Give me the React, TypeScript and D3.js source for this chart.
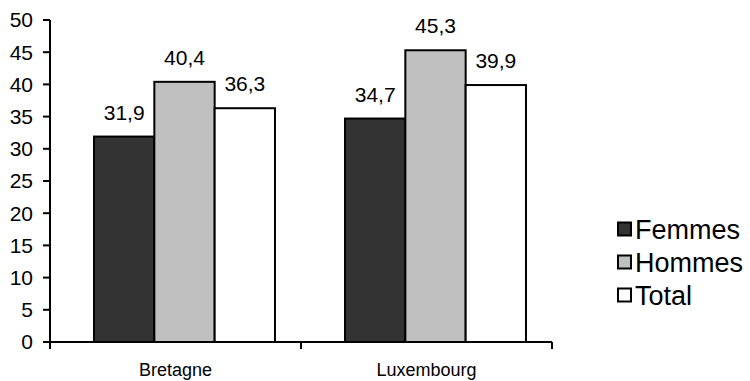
import React from "react";
import * as d3 from "d3";

const categories = ["Bretagne", "Luxembourg"];
const seriesNames = ["Femmes", "Hommes", "Total"];
const femmes = [31.9, 34.7];
const hommes = [40.4, 45.3];
const total = [36.3, 39.9];
const yTicks = [0, 5, 10, 15, 20, 25, 30, 35, 40, 45, 50];

const seriesValues = [femmes, hommes, total];
const fills = ["#333333", "#c0c0c0", "#ffffff"];

const W = 750;
const H = 381;
const left = 50;
const right = 552;
const top = 20;
const bottom = 342;
const barShift = 9;
const font = "Arial, 'Liberation Sans', sans-serif";

export default function App() {
  // category bands (axis ticks + labels)
  const x = d3.scaleBand<string>().domain(categories).range([left, right]);
  // bar clusters inside each category
  const xb = d3
    .scaleBand<string>()
    .domain(categories)
    .range([left + barShift, right + barShift])
    .paddingInner(0.279)
    .paddingOuter(0.1395);
  const xs = d3.scaleBand<string>().domain(seriesNames).range([0, xb.bandwidth()]);
  const y = d3.scaleLinear().domain([0, 50]).range([bottom, top]);
  const fmt = (v: number) => v.toFixed(1).replace(".", ",");

  return (
    <svg
      width={W}
      height={H}
      style={{ position: "absolute", left: 0, top: 0, background: "#fff" }}
      fontFamily={font}
      fontSize={21}
    >
      {/* bars */}
      {categories.map((c, ci) =>
        seriesNames.map((s, si) => {
          const v = seriesValues[si][ci];
          const bx = (xb(c) as number) + (xs(s) as number);
          return (
            <g key={c + s}>
              <rect
                x={bx}
                y={y(v)}
                width={xs.bandwidth()}
                height={bottom - y(v)}
                fill={fills[si]}
                stroke="#000"
                strokeWidth={2}
              />
              <text
                x={bx + xs.bandwidth() / 2}
                y={y(v) - 17}
                textAnchor="middle"
                fill="#000"
              >
                {fmt(v)}
              </text>
            </g>
          );
        })
      )}
      {/* y axis */}
      <line x1={left} x2={left} y1={top} y2={bottom + 7} stroke="#000" strokeWidth={2} />
      {yTicks.map((t) => (
        <g key={t}>
          <line x1={left - 7} x2={left} y1={y(t)} y2={y(t)} stroke="#000" strokeWidth={2} />
          <text x={left - 17} y={y(t)} dy="0.35em" textAnchor="end">
            {t}
          </text>
        </g>
      ))}
      {/* x axis */}
      <line x1={left - 7} x2={right} y1={bottom} y2={bottom} stroke="#000" strokeWidth={2} />
      {[...categories.map((c) => x(c) as number), right].map((tx, i) => (
        <line key={i} x1={tx} x2={tx} y1={bottom} y2={bottom + 7} stroke="#000" strokeWidth={2} />
      ))}
      {categories.map((c) => (
        <text
          key={c}
          x={(x(c) as number) + x.bandwidth() / 2}
          y={bottom + 34}
          textAnchor="middle"
          fontSize={18}
        >
          {c}
        </text>
      ))}
      {/* legend */}
      {seriesNames.map((s, i) => (
        <g key={s} transform={`translate(618, ${229 + i * 33})`}>
          <rect x={0} y={-6.5} width={13} height={13} fill={fills[i]} stroke="#000" strokeWidth={2} />
          <text x={17} y={0} dy="0.36em" fontSize={27}>
            {s}
          </text>
        </g>
      ))}
    </svg>
  );
}
